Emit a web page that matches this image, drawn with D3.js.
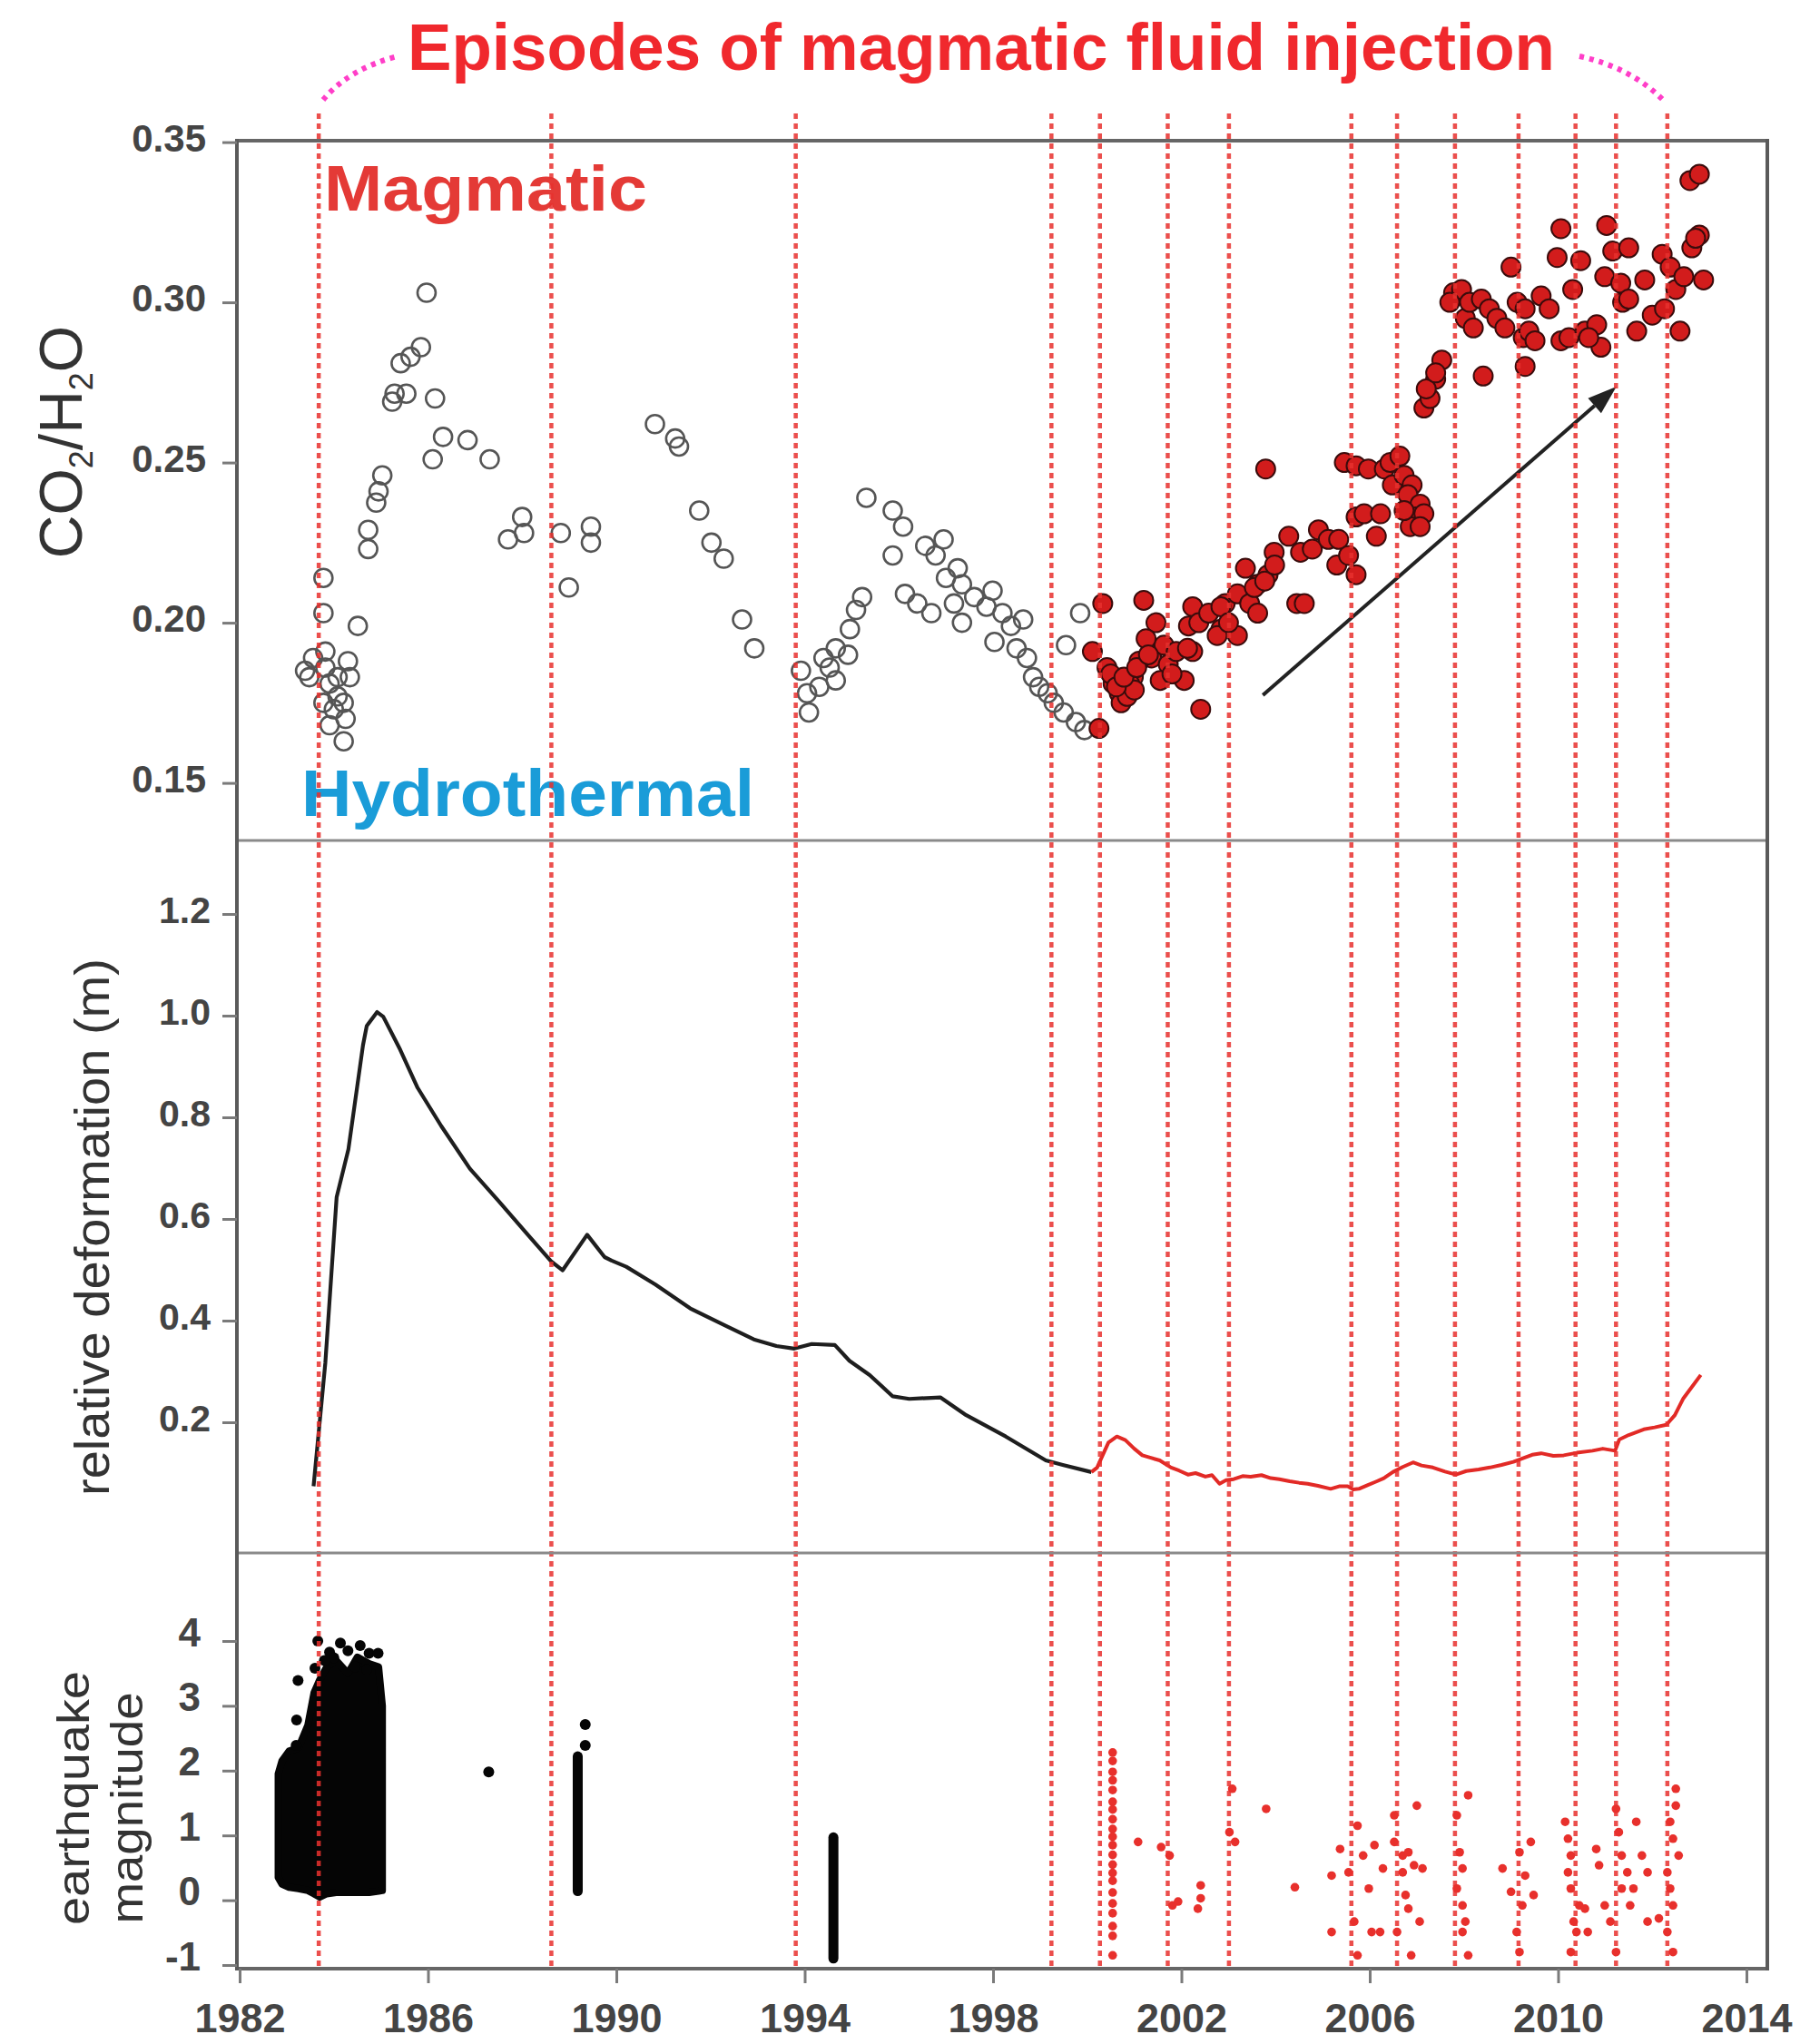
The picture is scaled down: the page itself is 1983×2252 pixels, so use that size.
<!DOCTYPE html>
<html><head><meta charset="utf-8">
<script src="https://cdn.jsdelivr.net/npm/d3@7"></script>
<style>
body{margin:0;background:#fff}
svg{display:block}
text{font-family:"Liberation Sans",Arial,Helvetica,sans-serif}
</style>
</head><body>
<script>
// ---------------- DATA ----------------
const xTicks = [1982,1986,1990,1994,1998,2002,2006,2010,2014];
const topTicks = [0.15,0.20,0.25,0.30,0.35];
const midTicks = [0.2,0.4,0.6,0.8,1.0,1.2];
const botTicks = [-1,0,1,2,3,4];

const episodeYears = [1983.68,1988.62,1993.81,1999.24,2000.27,2001.71,2003.01,2005.61,2006.58,2007.81,2009.16,2010.37,2011.23,2012.32];

// CO2/H2O hydrothermal (open circles)
const hydroYears = [1983.39,1983.56,1983.48,1983.78,1983.78,1983.82,1983.82,1983.91,1983.78,1984.0,1983.91,1984.08,1984.30,1984.34,1984.21,1984.21,1984.08,1984.25,1984.51,1984.73,1984.73,1984.90,1984.95,1985.03,1985.24,1985.29,1985.54,1985.42,1985.63,1985.85,1985.97,1986.15,1986.10,1986.32,1986.84,1987.31,1987.70,1988.0,1988.04,1988.82,1989.46,1989.46,1988.99,
 1990.82,1991.25,1991.33,1991.76,1992.02,1992.28,1992.67,1992.93,1993.92,1994.09,1994.05,1994.31,1994.40,1994.66,1994.53,1994.66,1994.92,1994.96,1995.09,1995.22,1995.31,1995.87,1996.09,1995.87,1996.13,1996.39,1996.56,1996.78,1996.95,1996.69,1997.25,1997.34,1997.0,1997.17,1997.34,1997.6,1997.86,1997.99,1998.03,1998.2,1998.38,1998.64,1998.5,1998.72,1998.85,1998.98,1999.16,1999.29,1999.5,1999.76,1999.94,1999.85,1999.55];
const hydroVals = [0.185,0.189,0.183,0.214,0.203,0.191,0.186,0.181,0.175,0.173,0.168,0.183,0.188,0.183,0.175,0.163,0.177,0.170,0.199,0.223,0.229,0.2375,0.241,0.246,0.269,0.2715,0.2715,0.281,0.283,0.286,0.303,0.270,0.251,0.258,0.257,0.251,0.226,0.233,0.228,0.228,0.230,0.225,0.211,
 0.262,0.2575,0.255,0.235,0.225,0.220,0.201,0.192,0.185,0.172,0.178,0.180,0.189,0.192,0.186,0.182,0.190,0.198,0.204,0.208,0.239,0.235,0.230,0.221,0.209,0.206,0.224,0.221,0.226,0.203,0.217,0.212,0.214,0.206,0.200,0.208,0.205,0.210,0.194,0.203,0.199,0.201,0.192,0.189,0.183,0.180,0.178,0.175,0.172,0.169,0.1665,0.203,0.193];

// CO2/H2O magmatic (red filled circles)
const magYears = [2000.25,2000.33,2000.11,2000.42,2000.55,2000.68,2000.50,2001.2,2001.46,2001.37,2001.63,2001.72,2001.89,2002.06,2002.24,2000.98,2001.1,2002.41,2002.24,2002.15,2002.37,2002.58,2002.84,2003.19,2002.93,2003.36,2003.19,2003.45,2003.62,2003.79,2003.97,2003.84,2003.62,
 2000.72,2000.85,2000.9,2001.0,2001.25,2001.55,2001.8,2000.62,2000.78,2001.05,2001.3,
 2002.13,2002.84,2002.76,2003.0,2003.55,2003.77,2003.98,2004.28,2004.45,2004.61,2004.53,2004.78,2004.91,2005.12,2005.3,2005.34,2005.55,2005.71,2005.71,2005.88,2006.14,2006.23,
 2005.46,2005.71,2005.97,2006.31,2006.43,2006.64,2006.48,2006.73,2006.9,2006.81,2007.07,2006.98,2007.15,2006.86,2006.73,2007.07,
 2007.15,2007.28,2007.4,2007.53,2007.2,2007.4,2007.78,2007.95,2007.7,2008.03,2008.12,2008.37,2008.2,2008.41,2008.54,2008.7,2008.87,2009.0,2009.13,2009.3,2009.26,2009.38,2009.3,2009.51,2009.64,2009.81,2009.98,2010.06,2010.06,2010.23,2010.31,2010.48,2010.57,2010.82,2010.91,2010.65,
 2011.03,2010.99,2011.16,2011.33,2011.37,2011.5,2011.5,2011.67,2011.84,2012.0,2012.21,2012.26,2012.38,2012.59,2012.5,2012.67,2012.84,2013.0,2013.09,2012.8,2013.0,2012.92];
const magVals = [0.167,0.206,0.191,0.186,0.181,0.178,0.184,0.207,0.200,0.189,0.193,0.187,0.191,0.182,0.191,0.183,0.188,0.173,0.205,0.199,0.200,0.203,0.198,0.196,0.206,0.217,0.209,0.206,0.212,0.248,0.222,0.215,0.203,
 0.175,0.177,0.181,0.179,0.195,0.182,0.184,0.180,0.183,0.186,0.190,
 0.192,0.205,0.196,0.200,0.211,0.213,0.218,0.227,0.206,0.206,0.222,0.223,0.229,0.226,0.218,0.226,0.221,0.215,0.233,0.234,0.227,0.234,
 0.250,0.249,0.248,0.248,0.250,0.252,0.243,0.246,0.243,0.240,0.237,0.233,0.234,0.230,0.235,0.230,
 0.267,0.270,0.276,0.282,0.273,0.278,0.303,0.304,0.300,0.295,0.300,0.301,0.292,0.277,0.298,0.295,0.292,0.311,0.300,0.298,0.289,0.291,0.280,0.288,0.302,0.298,0.314,0.323,0.288,0.289,0.304,0.313,0.291,0.293,0.286,0.289,
 0.324,0.308,0.316,0.306,0.300,0.317,0.301,0.291,0.307,0.296,0.315,0.298,0.311,0.291,0.304,0.308,0.317,0.321,0.307,0.338,0.340,0.320];

// Arrow (year, value)
const arrowFrom = [2003.73, 0.1774];
const arrowTo = [2011.24, 0.2737];

// Relative deformation (m)
const defBlackYears = [1983.57,1983.82,1984.06,1984.31,1984.62,1984.70,1984.92,1985.05,1985.41,1985.78,1986.28,1986.89,1987.51,1988.12,1988.61,1988.86,1989.38,1989.75,1989.90,1990.21,1990.83,1991.57,1992.30,1992.92,1993.40,1993.78,1994.15,1994.64,1994.95,1995.38,1995.87,1996.22,1996.88,1997.43,1998.27,1999.12,1999.48,2000.09];
const defBlackVals = [0.074,0.317,0.643,0.737,0.942,0.980,1.007,0.998,0.933,0.858,0.783,0.699,0.634,0.569,0.517,0.499,0.569,0.525,0.518,0.506,0.471,0.424,0.391,0.363,0.350,0.345,0.354,0.352,0.321,0.293,0.251,0.246,0.249,0.214,0.172,0.125,0.116,0.102];
const defRedYears = [2000.09,2000.21,2000.45,2000.63,2000.81,2001.0,2001.17,2001.35,2001.54,2001.78,2001.95,2002.14,2002.3,2002.51,2002.65,2002.81,2002.95,2003.11,2003.3,2003.47,2003.7,2003.9,2004.08,2004.3,2004.5,2004.68,2004.9,2005.17,2005.35,2005.53,2005.65,2005.77,2005.95,2006.13,2006.3,2006.49,2006.7,2006.92,2007.1,2007.34,2007.6,2007.83,2008.05,2008.31,2008.55,2008.8,2009.05,2009.28,2009.45,2009.64,2009.9,2010.12,2010.4,2010.73,2010.95,2011.21,2011.3,2011.5,2011.82,2012.05,2012.3,2012.48,2012.66,2013.03];
const defRedVals = [0.102,0.111,0.160,0.172,0.165,0.148,0.135,0.130,0.125,0.111,0.105,0.097,0.100,0.093,0.096,0.079,0.086,0.088,0.094,0.093,0.096,0.090,0.088,0.084,0.081,0.079,0.075,0.069,0.074,0.074,0.068,0.069,0.076,0.083,0.090,0.102,0.112,0.121,0.115,0.111,0.103,0.097,0.104,0.107,0.111,0.116,0.122,0.130,0.136,0.139,0.134,0.135,0.140,0.144,0.148,0.144,0.166,0.175,0.186,0.190,0.195,0.214,0.247,0.293];

// Earthquakes: dense 1983-85 swarm envelope
const swarmYears = [1982.82,1982.90,1983.05,1983.25,1983.45,1983.58,1983.70,1983.85,1984.05,1984.30,1984.50,1984.75,1984.95,1985.03];
const swarmTop =   [1.95,2.15,2.30,2.35,2.70,3.20,3.40,3.60,3.70,3.50,3.75,3.65,3.60,3.00];
const swarmBottom =[0.35,0.25,0.20,0.18,0.15,0.10,0.05,0.10,0.12,0.12,0.12,0.12,0.14,0.15];
const swarmDotYears = [1983.24,1983.21,1983.20,1983.66,1983.60,1983.91,1984.14,1984.00,1984.56,1984.75,1984.94,1984.45,1984.70,1984.30,1983.80];
const swarmDotMags  = [3.39,2.78,2.39,4.00,3.58,3.83,3.97,3.74,3.93,3.81,3.81,3.60,3.56,3.85,3.70];
// vertical clusters of black events (year, min, max)
const clusterYears = [1989.18,1994.61];
const clusterMin = [0.14,-0.90];
const clusterMax = [2.22,0.97];
const blackDotYears = [1987.29,1989.34,1989.34];
const blackDotMags = [1.98,2.71,2.39];
// red events after 2000
const redQuakeYears = [2000.54,2000.54,2000.54,2000.54,2000.54,2000.54,2000.54,2000.54,2000.54,2000.54,2000.54,2000.54,2000.54,2000.54,2000.54,2000.54,2000.54,2000.54,2000.54,2000.54,2000.54,
 2001.08,2001.57,2001.75,2001.81,2001.93,2002.41,2002.41,2002.35,2003.08,2003.02,2003.14,2003.80,2004.41,
 2005.19,2005.19,2005.37,2005.55,2005.74,2005.67,2005.74,2005.86,2005.98,2006.04,2006.10,2006.22,2006.28,2006.52,2006.52,2006.58,2006.70,2006.70,2006.76,2006.82,2006.88,2006.94,2006.82,2007.00,2007.06,2007.12,
 2007.85,2008.09,2007.91,2007.97,2007.85,2007.97,2008.03,2008.09,2007.97,
 2008.82,2009.00,2009.18,2009.30,2009.42,2009.12,2009.18,2009.24,2009.48,
 2010.15,2010.21,2010.27,2010.21,2010.27,2010.33,2010.27,2010.39,2010.45,2010.57,2010.63,2010.81,2010.87,2010.99,2011.11,2011.23,
 2011.23,2011.29,2011.35,2011.47,2011.35,2011.53,2011.66,2011.60,2011.78,2011.90,2011.90,2012.14,2012.32,2012.32,2012.38,2012.44,2012.50,2012.50,2012.38,2012.44,2012.44,2012.56];
const redQuakeMags = [2.28,2.15,1.98,1.85,1.70,1.52,1.40,1.25,1.10,0.98,0.85,0.70,0.55,0.42,0.30,0.12,-0.05,-0.20,-0.40,-0.55,-0.85,
 0.90,0.82,0.69,-0.08,-0.02,0.23,0.03,-0.13,1.72,1.05,0.90,1.41,0.20,
 -0.49,0.38,0.79,0.43,1.15,-0.33,-0.85,0.69,0.18,-0.49,0.85,-0.49,0.49,0.90,1.31,-0.49,0.69,0.43,0.08,-0.13,-0.85,0.54,0.74,1.46,-0.33,0.49,
 1.31,1.62,0.74,0.49,0.18,-0.08,-0.33,-0.85,-0.49,
 0.49,0.13,0.74,0.38,0.90,-0.49,-0.80,-0.08,0.08,
 1.21,0.95,0.69,0.43,0.18,-0.33,-0.80,-0.49,-0.08,-0.13,-0.49,0.79,0.54,-0.08,-0.33,-0.80,
 1.41,1.05,0.69,0.43,0.18,-0.08,1.21,0.18,0.69,0.43,-0.33,-0.28,-0.49,0.43,1.21,0.95,1.72,1.46,0.18,-0.08,-0.80,0.69];

// ---------------- LAYOUT ----------------
const W = 1983, H = 2252;
const L = 261, R = 1947;
const T1 = 155, D1 = 926, D2 = 1711, B = 2169;

const x = d3.scaleLinear().domain([1982, 2014]).range([264, 1924]);
const yTop = d3.scaleLinear().domain([0.15, 0.35]).range([862.6, 156.6]);
const yMid = d3.scaleLinear().domain([0, 1.2]).range([1679, 1007]);
const yBot = d3.scaleLinear().domain([-1, 4]).range([2165, 1808]);

const RED = "#e8312e";
const svg = d3.select("body").append("svg").attr("width", W).attr("height", H);
svg.append("rect").attr("width", W).attr("height", H).attr("fill", "#fff");

// ---------------- TITLE ----------------
svg.append("text").attr("x", 449).attr("y", 77)
  .attr("font-size", 72).attr("font-weight", "bold").attr("fill", "#f0282d")
  .attr("textLength", 1264).attr("lengthAdjust", "spacingAndGlyphs")
  .text("Episodes of magmatic fluid injection");
svg.append("path").attr("d", "M356,110 Q384,76 438,62").attr("fill", "none")
  .attr("stroke", "#ff3ec8").attr("stroke-width", 6).attr("stroke-dasharray", "5,6");
svg.append("path").attr("d", "M1740,62 Q1796,74 1832,110").attr("fill", "none")
  .attr("stroke", "#ff3ec8").attr("stroke-width", 6).attr("stroke-dasharray", "5,6");

// ---------------- ANNOTATION TEXT ----------------
svg.append("text").attr("x", 357).attr("y", 232).attr("font-size", 70).attr("font-weight", "bold")
  .attr("fill", "#e43a36").attr("textLength", 356).attr("lengthAdjust", "spacingAndGlyphs").text("Magmatic");
svg.append("text").attr("x", 332).attr("y", 899).attr("font-size", 72).attr("font-weight", "bold")
  .attr("fill", "#1a9cd8").attr("textLength", 499).attr("lengthAdjust", "spacingAndGlyphs").text("Hydrothermal");

// ---------------- TOP PANEL DATA ----------------
const gTopData = svg.append("g");
gTopData.selectAll("circle.h").data(hydroYears.map((d, i) => [d, hydroVals[i]])).join("circle")
  .attr("class", "h").attr("cx", d => x(d[0])).attr("cy", d => yTop(d[1])).attr("r", 10)
  .attr("fill", "none").attr("stroke", "#555").attr("stroke-width", 2.6);
gTopData.selectAll("circle.m").data(magYears.map((d, i) => [d, magVals[i]])).join("circle")
  .attr("class", "m").attr("cx", d => x(d[0])).attr("cy", d => yTop(d[1])).attr("r", 10.5)
  .attr("fill", "#d21c1c").attr("stroke", "#3a0c0c").attr("stroke-width", 2);

// arrow
const ax1 = x(arrowFrom[0]), ay1 = yTop(arrowFrom[1]), ax2 = x(arrowTo[0]), ay2 = yTop(arrowTo[1]);
const ang = Math.atan2(ay2 - ay1, ax2 - ax1);
const headLen = 32, headW = 11;
const bx = ax2 - headLen * Math.cos(ang), by = ay2 - headLen * Math.sin(ang);
svg.append("line").attr("x1", ax1).attr("y1", ay1).attr("x2", bx).attr("y2", by)
  .attr("stroke", "#222").attr("stroke-width", 4);
svg.append("path").attr("d",
  `M${ax2},${ay2} L${bx + headW * Math.sin(ang)},${by - headW * Math.cos(ang)} L${bx - headW * Math.sin(ang)},${by + headW * Math.cos(ang)} Z`)
  .attr("fill", "#222");

// ---------------- MIDDLE PANEL DATA ----------------
const line = d3.line().x(d => x(d[0])).y(d => yMid(d[1]));
svg.append("path").datum(defBlackYears.map((d, i) => [d, defBlackVals[i]]))
  .attr("d", line).attr("fill", "none").attr("stroke", "#1e1e1e").attr("stroke-width", 4.2)
  .attr("stroke-linejoin", "round");
svg.append("path").datum(defRedYears.map((d, i) => [d, defRedVals[i]]))
  .attr("d", line).attr("fill", "none").attr("stroke", "#e22a26").attr("stroke-width", 4)
  .attr("stroke-linejoin", "round");

// ---------------- BOTTOM PANEL DATA ----------------
const area = d3.area().x(d => x(d[0])).y0(d => yBot(d[2])).y1(d => yBot(d[1])).curve(d3.curveLinear);
svg.append("path").datum(swarmYears.map((d, i) => [d, swarmTop[i], swarmBottom[i]]))
  .attr("d", area).attr("fill", "#050505").attr("stroke", "#050505").attr("stroke-width", 8)
  .attr("stroke-linejoin", "round");
svg.selectAll("circle.sd").data(swarmDotYears.map((d, i) => [d, swarmDotMags[i]])).join("circle")
  .attr("class", "sd").attr("cx", d => x(d[0])).attr("cy", d => yBot(d[1])).attr("r", 6).attr("fill", "#050505");
svg.selectAll("line.cl").data(clusterYears.map((d, i) => [d, clusterMin[i], clusterMax[i]])).join("line")
  .attr("class", "cl").attr("x1", d => x(d[0])).attr("x2", d => x(d[0]))
  .attr("y1", d => yBot(d[1])).attr("y2", d => yBot(d[2]))
  .attr("stroke", "#050505").attr("stroke-width", 11).attr("stroke-linecap", "round");
svg.selectAll("circle.bd").data(blackDotYears.map((d, i) => [d, blackDotMags[i]])).join("circle")
  .attr("class", "bd").attr("cx", d => x(d[0])).attr("cy", d => yBot(d[1])).attr("r", 6).attr("fill", "#050505");
svg.selectAll("circle.rq").data(redQuakeYears.map((d, i) => [d, redQuakeMags[i]])).join("circle")
  .attr("class", "rq").attr("cx", d => x(d[0])).attr("cy", d => yBot(d[1])).attr("r", 4.8).attr("fill", "#e8302c");

// ---------------- EPISODE LINES ----------------
svg.selectAll("line.ep").data(episodeYears).join("line")
  .attr("class", "ep").attr("x1", d => x(d)).attr("x2", d => x(d)).attr("y1", 125).attr("y2", B)
  .attr("stroke", RED).attr("stroke-width", 4.5).attr("stroke-dasharray", "6,5").attr("opacity", 0.85);

// ---------------- FRAME ----------------
svg.append("line").attr("x1", L).attr("x2", R).attr("y1", T1).attr("y2", T1).attr("stroke", "#666").attr("stroke-width", 4);
svg.append("line").attr("x1", L).attr("x2", R).attr("y1", D1).attr("y2", D1).attr("stroke", "#8a8a8a").attr("stroke-width", 3);
svg.append("line").attr("x1", L).attr("x2", R).attr("y1", D2).attr("y2", D2).attr("stroke", "#8a8a8a").attr("stroke-width", 3);
svg.append("line").attr("x1", L).attr("x2", R).attr("y1", B).attr("y2", B).attr("stroke", "#666").attr("stroke-width", 4);
svg.append("line").attr("x1", L).attr("x2", L).attr("y1", T1 - 2).attr("y2", B + 2).attr("stroke", "#5a5a5a").attr("stroke-width", 4);
svg.append("line").attr("x1", R).attr("x2", R).attr("y1", T1 - 2).attr("y2", B + 2).attr("stroke", "#5a5a5a").attr("stroke-width", 4);

// ---------------- AXES ----------------
function styleAxis(g, fs, dyShift) {
  g.attr("font-size", null).attr("font-family", null);
  g.select(".domain").remove();
  g.selectAll(".tick line").attr("stroke", "#7a7a7a").attr("stroke-width", 3);
  g.selectAll(".tick text").attr("font-size", fs).attr("font-weight", "bold").attr("fill", "#444")
    .attr("font-family", "'Liberation Sans', Arial, sans-serif");
  if (dyShift) g.selectAll(".tick text").attr("y", dyShift);
}
const gAT = svg.append("g").attr("transform", `translate(${L},0)`)
  .call(d3.axisLeft(yTop).tickValues(topTicks).tickFormat(d3.format(".2f")).tickSize(16).tickPadding(18));
styleAxis(gAT, 42, -4);
const gAM = svg.append("g").attr("transform", `translate(${L},0)`)
  .call(d3.axisLeft(yMid).tickValues(midTicks).tickFormat(d3.format(".1f")).tickSize(16).tickPadding(13));
styleAxis(gAM, 41, -4);
const gAB = svg.append("g").attr("transform", `translate(${L},0)`)
  .call(d3.axisLeft(yBot).tickValues(botTicks).tickFormat(d => String(d)).tickSize(16).tickPadding(24));
styleAxis(gAB, 44, -9);
const gAX = svg.append("g").attr("transform", `translate(0,${B})`)
  .call(d3.axisBottom(x).tickValues(xTicks).tickFormat(d => String(d)).tickSize(16).tickPadding(22));
styleAxis(gAX, 45, null);

// ---------------- AXIS TITLES ----------------
const t1 = svg.append("text").attr("transform", "translate(90,487) rotate(-90)")
  .attr("text-anchor", "middle").attr("font-size", 66).attr("fill", "#333");
t1.append("tspan").text("CO");
t1.append("tspan").attr("font-size", 36).attr("dy", 12).text("2");
t1.append("tspan").attr("dy", -12).text("/H");
t1.append("tspan").attr("font-size", 36).attr("dy", 12).text("2");
t1.append("tspan").attr("dy", -12).text("O");

svg.append("text").attr("transform", "translate(120,1352) rotate(-90)")
  .attr("text-anchor", "middle").attr("font-size", 54).attr("fill", "#333")
  .attr("textLength", 592).attr("lengthAdjust", "spacingAndGlyphs").text("relative deformation (m)");
svg.append("text").attr("transform", "translate(98,1981) rotate(-90)")
  .attr("text-anchor", "middle").attr("font-size", 50).attr("fill", "#333")
  .attr("textLength", 280).attr("lengthAdjust", "spacingAndGlyphs").text("earthquake");
svg.append("text").attr("transform", "translate(157,1992) rotate(-90)")
  .attr("text-anchor", "middle").attr("font-size", 50).attr("fill", "#333")
  .attr("textLength", 255).attr("lengthAdjust", "spacingAndGlyphs").text("magnitude");
</script>
</body></html>
